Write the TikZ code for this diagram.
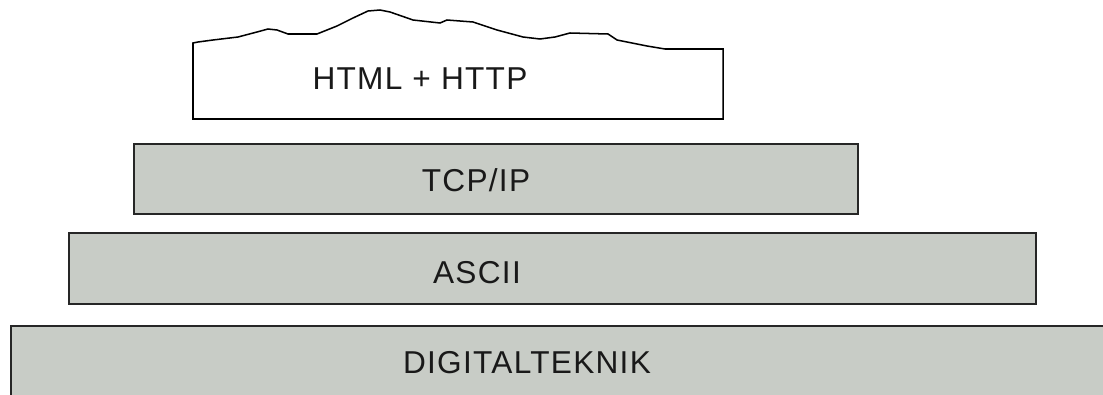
\documentclass[tikz,border=0pt]{standalone}
\usepackage{fontspec}
\setmainfont{Liberation Sans}
\newfontfamily\layerfont[LetterSpace=4]{Liberation Sans}
\definecolor{layergray}{RGB}{200,204,198}
\begin{document}
\begin{tikzpicture}[
  x=0.03cm, y=-0.03cm,
  layer/.style={draw=black!85, line width=1.6pt, fill=layergray, inner sep=0pt},
  lbl/.style={anchor=base, text=black!90, font=\layerfont\fontsize{27}{32}\selectfont}
]
\clip (0,0) rectangle (1103,394);
\node[layer, minimum width=33.27cm, minimum height=2.52cm] (digital) at (565.5,368) {};
\node[layer, minimum width=29.01cm, minimum height=2.13cm] (ascii) at (552.5,268.5) {};
\node[layer, minimum width=21.72cm, minimum height=2.1cm] (tcp) at (496,179) {};
\draw[line width=1.3pt, fill=white, line join=miter]
  (193,119) -- (193,43) -- (198,42) -- (213,40) -- (238,37) -- (257,32) -- (268,29)
  -- (277,30) -- (288,34) -- (317,34) -- (337,26) -- (353,18) -- (368,11) -- (380,10)
  -- (390,12) -- (413,20) -- (440,23) -- (447,20) -- (473,22) -- (497,30) -- (523,37)
  -- (540,39) -- (555,37) -- (570,33) -- (608,34) -- (617,40) -- (647,46) -- (665,49)
  -- (723,49) -- (723,119) -- cycle;
\node[lbl] (html) at (420,89) {HTML + HTTP};
\node[lbl] (tcplbl) at (476,191) {TCP/IP};
\node[lbl] (asciilbl) at (477,283) {ASCII};
\node[lbl] (digitallbl) at (527,373) {DIGITALTEKNIK};
\end{tikzpicture}
\end{document}
